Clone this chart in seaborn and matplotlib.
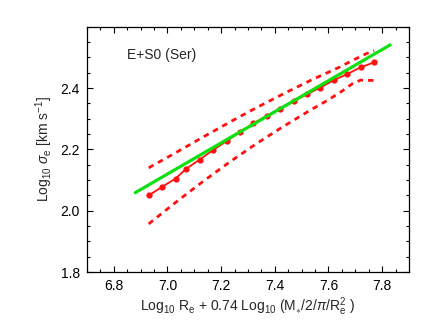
import numpy as np
import pandas as pd
import seaborn as sns
import matplotlib
matplotlib.use('Agg')
import matplotlib.pyplot as plt
from matplotlib.ticker import MultipleLocator

# binned median relation (red points)
bin_x = [6.93, 6.98, 7.03, 7.07, 7.12, 7.17, 7.22, 7.27, 7.32,
         7.37, 7.42, 7.47, 7.52, 7.57, 7.62, 7.67, 7.72, 7.77]
bin_y = [2.050, 2.078, 2.105, 2.137, 2.167, 2.198, 2.227, 2.256, 2.285,
         2.310, 2.333, 2.357, 2.380, 2.402, 2.426, 2.446, 2.468, 2.484]

# upper / lower scatter envelope
upper_x = [6.93, 7.04, 7.14, 7.24, 7.34, 7.44, 7.54, 7.64, 7.70, 7.74, 7.77]
upper_y = [2.140, 2.194, 2.244, 2.293, 2.340, 2.385, 2.428, 2.468, 2.495, 2.512, 2.522]
lower_x = [6.93, 7.03, 7.13, 7.23, 7.33, 7.43, 7.53, 7.60, 7.65, 7.69, 7.72, 7.77]
lower_y = [1.957, 2.027, 2.094, 2.158, 2.218, 2.274, 2.327, 2.362, 2.390, 2.415, 2.426, 2.425]

# straight line fit (green)
fit_x = [6.88, 7.83]
fit_y = [2.059, 2.541]

sns.set_style('ticks')
plt.rcParams['font.family'] = ['Liberation Sans', 'DejaVu Sans']
plt.rcParams['mathtext.fontset'] = 'custom'
plt.rcParams['mathtext.rm'] = 'Liberation Sans'
plt.rcParams['mathtext.it'] = 'Liberation Sans:italic'

fig = plt.figure(figsize=(4.36, 3.27), dpi=100)
ax = fig.add_axes([0.1995, 0.168, 0.7385, 0.75])

red = '#ff1010'
sns.lineplot(x=upper_x, y=upper_y, ax=ax, color=red, lw=2.0, sort=False,
             linestyle=(0, (2.0, 1.8)))
sns.lineplot(x=lower_x, y=lower_y, ax=ax, color=red, lw=2.0, sort=False,
             linestyle=(0, (2.0, 1.8)))
sns.lineplot(x=bin_x, y=bin_y, ax=ax, color=red, lw=1.3, sort=False,
             marker='o', markersize=4.5, markeredgewidth=0)
sns.lineplot(x=fit_x, y=fit_y, ax=ax, color='#10e010', lw=2.3, sort=False)

ax.set_xlim(6.7, 7.9)
ax.set_ylim(1.8, 2.6)
ax.xaxis.set_minor_locator(MultipleLocator(0.05))
ax.yaxis.set_minor_locator(MultipleLocator(0.05))
ax.set_xticks([6.8, 7.0, 7.2, 7.4, 7.6, 7.8])
ax.set_xticklabels(['6.8', '7.0', '7.2', '7.4', '7.6', '7.8'])
ax.set_yticks([1.8, 2.0, 2.2, 2.4])
ax.set_yticklabels(['1.8', '2.0', '2.2', '2.4'])
ax.tick_params(which='both', direction='in', top=True, right=True,
               labelsize=10, width=0.8, colors='black', pad=5)
ax.tick_params(which='major', length=4)
ax.tick_params(which='minor', length=2.2)
for sp in ax.spines.values():
    sp.set_linewidth(0.9)
    sp.set_color('black')

ax.set_xlabel(r'Log$_{10}$ R$_{\rm e}$ + 0.74 Log$_{10}$ (M$_{\ast}$/2/$\pi$/R$_{\rm e}^2$ )',
              fontsize=10, labelpad=2)
ax.set_ylabel(r'Log$_{10}$ $\sigma_{\rm e}$ [km s$^{-1}$]', fontsize=10, labelpad=4)
ax.text(0.125, 0.87, 'E+S0 (Ser)', transform=ax.transAxes, fontsize=10)

fig.savefig('out.png', dpi=100)
